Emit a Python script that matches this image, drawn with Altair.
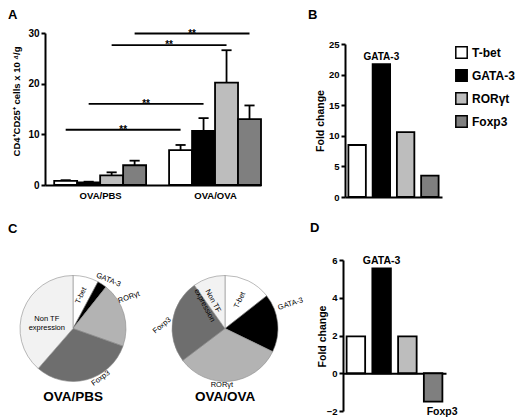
import altair as alt
import pandas as pd

# ---------------- data ----------------
genes = ["T-bet", "GATA-3", "RORγt", "Foxp3"]
groups = ["OVA/PBS", "OVA/OVA"]

# Panel A: CD4+CD25+ cells x 10^4/g (mean and SEM)
a_pbs_mean = [0.8, 0.5, 1.9, 3.9]
a_pbs_sem = [0.15, 0.15, 0.6, 0.9]
a_ova_mean = [6.9, 10.7, 20.2, 13.0]
a_ova_sem = [1.0, 2.5, 6.4, 2.7]
a_ticks = [0, 10, 20, 30]
sig_levels = [10.9, 16.0, 27.6, 29.9]
sig_marks = ["**", "**", "**", "**"]

# Panel B: fold change
b_fold = [8.5, 21.7, 10.6, 3.5]
b_ticks = [0, 5, 10, 15, 20, 25]

# Panel D: fold change
d_fold = [1.95, 5.55, 1.95, -1.5]
d_ticks = [-2, 0, 2, 4, 6]

# Panel C: pie shares (%)
pie_cats = ["T-bet", "GATA-3", "RORγt", "Foxp3", "Non TF expression"]
pie_labels = ["T-bet", "GATA-3", "RORγt", "Foxp3", "Non TF\nexpression"]
pie_pbs = [7.8, 2.9, 19.7, 31.0, 38.6]
pie_ova = [14.4, 17.8, 32.5, 25.5, 9.8]

# ---------------- styles / layout ----------------
FONT = "Liberation Sans"
W, H = 507, 410
bar_colors = ["#ffffff", "#000000", "#bdbdbd", "#7f7f7f"]
pie_colors = ["#ffffff", "#000000", "#b3b3b3", "#6e6e6e", "#f2f2f2"]

lab_radius = [34, 60, 64, 57, 28] + [32, 70, 57, 63, 30]
lab_rot = [294, 22, 340, 325, 0] + [296, 342, 0, 320, 62]
lab_nudge = [0, 0.8, -3.6, -4.0, 0] + [0.5, -4.0, 2.4, -1.7, -1.7]

axis_common = dict(
    domainColor="black", domainWidth=2, tickColor="black", tickWidth=2,
    labelColor="black", labelFont=FONT, labelFontWeight="bold",
    titleFont=FONT, titleFontWeight="bold", titleColor="black",
    grid=False, labelFlush=False, labelOverlap=False,
)

# ---------------- Panel A ----------------
a_df = pd.DataFrame({
    "group": [g for g in groups for _ in genes],
    "gene": genes * 2,
    "mean": a_pbs_mean + a_ova_mean,
    "sem": a_pbs_sem + a_ova_sem,
    "gi": [i for i in range(len(groups)) for _ in genes],
    "ji": list(range(len(genes))) * 2,
})
ax_scale = alt.Scale(domain=[0, 9.4], range=[37, 253], nice=False, zero=False)
ay_scale = alt.Scale(domain=[0, 30], range=[177, 25], nice=False)

a_yaxis = alt.Axis(
    orient="left", offset=-37, values=a_ticks, tickSize=4, labelPadding=2,
    labelFontSize=10, title="CD4⁺CD25⁺ cells x 10 ⁴/g", titleFontSize=9.5,
    titleX=-29, titleY=93, titleAngle=270, titleAlign="center",
    titleBaseline="middle", **axis_common,
)
a_xaxis = alt.Axis(
    orient="bottom", offset=-233, values=[2.4, 7.4], ticks=False, tickSize=0,
    labelPadding=5, labelFontSize=9.5, title=None,
    labelExpr="datum.value < 5 ? 'OVA/PBS' : 'OVA/OVA'", **axis_common,
)

a_base = alt.Chart(a_df).transform_calculate(
    x0="datum.gi * 5 + datum.ji + 0.4",
    x1="datum.gi * 5 + datum.ji + 1.4",
    xc="datum.gi * 5 + datum.ji + 0.9",
    c0="datum.gi * 5 + datum.ji + 0.68",
    c1="datum.gi * 5 + datum.ji + 1.12",
    top="datum.mean + datum.sem",
)
a_err = a_base.mark_rule(color="black", strokeWidth=1.8).encode(
    x=alt.X("xc:Q", scale=ax_scale, axis=None),
    y=alt.Y("mean:Q", scale=ay_scale, axis=None),
    y2="top:Q",
)
a_cap = a_base.mark_rule(color="black", strokeWidth=1.8).encode(
    x=alt.X("c0:Q", scale=ax_scale, axis=None),
    x2="c1:Q",
    y=alt.Y("top:Q", scale=ay_scale, axis=None),
)
a_bars = a_base.mark_bar(stroke="black", strokeWidth=1.8).encode(
    x=alt.X("x0:Q", scale=ax_scale, axis=a_xaxis),
    x2="x1:Q",
    y=alt.Y("mean:Q", scale=ay_scale, axis=a_yaxis, stack=None),
    y2=alt.datum(0),
    color=alt.Color("gene:N", scale=alt.Scale(domain=genes, range=bar_colors), legend=None),
)
sig_df = pd.DataFrame({"ji": list(range(len(genes))), "level": sig_levels, "txt": sig_marks})
sig_base = alt.Chart(sig_df).transform_calculate(
    s="datum.ji + 0.9", e="datum.ji + 5.9", m="datum.ji + 3.4"
)
sig_rule = sig_base.mark_rule(color="black", strokeWidth=1.8).encode(
    x=alt.X("s:Q", scale=ax_scale, axis=None),
    x2="e:Q",
    y=alt.Y("level:Q", scale=ay_scale, axis=None),
)
sig_txt = sig_base.mark_text(font=FONT, fontSize=10, fontWeight="bold", baseline="alphabetic", dy=3, color="black").encode(
    x=alt.X("m:Q", scale=ax_scale, axis=None),
    y=alt.Y("level:Q", scale=ay_scale, axis=None),
    text="txt:N",
)

# ---------------- Panel B ----------------
b_df = pd.DataFrame({"gene": genes, "fold": b_fold})
bx = alt.Scale(domain=genes, range=[337, 434], paddingInner=0.28, paddingOuter=0.14)
by = alt.Scale(domain=[0, 25], range=[189, 36], nice=False)
b_yaxis = alt.Axis(
    orient="left", offset=-337, values=b_ticks, tickSize=4, labelPadding=2,
    labelFontSize=9.5, title="Fold change", titleFontSize=10.5,
    titleX=-25, titleY=112.5, titleAngle=270, titleAlign="center",
    titleBaseline="middle", **axis_common,
)
b_xaxis = alt.Axis(orient="bottom", offset=189 - H, ticks=False, labels=False, title=None, **axis_common)
legend_b = alt.Legend(
    orient="none", legendX=447, legendY=38, title=None, symbolType="square",
    symbolSize=130, symbolStrokeColor="black", symbolStrokeWidth=1.5,
    labelFont=FONT, labelFontSize=12, labelFontWeight="bold", labelColor="black",
    labelOffset=4, rowPadding=4, padding=0,
)
b_bars = alt.Chart(b_df).mark_bar(stroke="black", strokeWidth=1.8).encode(
    x=alt.X("gene:N", scale=bx, axis=b_xaxis, sort=genes),
    y=alt.Y("fold:Q", scale=by, axis=b_yaxis),
    color=alt.Color("gene:N", scale=alt.Scale(domain=genes, range=bar_colors), legend=legend_b, sort=genes),
)
b_note = alt.Chart(b_df).transform_filter(alt.datum.gene == "GATA-3").mark_text(
    font=FONT, fontSize=10, fontWeight="bold", baseline="alphabetic", dy=-4, color="black"
).encode(
    x=alt.X("gene:N", scale=bx, axis=None, sort=genes),
    y=alt.Y("fold:Q", scale=by, axis=None),
    text="gene:N",
)

# ---------------- Panel D ----------------
d_df = pd.DataFrame({"gene": genes, "fold": d_fold})
dx = alt.Scale(domain=genes, range=[335, 438], paddingInner=0.28, paddingOuter=0.14)
dy_ = alt.Scale(domain=[-2, 6], range=[403, 252], nice=False, zero=False)
d_yaxis = alt.Axis(
    orient="left", offset=-335, values=d_ticks, tickSize=4, labelPadding=2,
    labelFontSize=9.5, title="Fold change", titleFontSize=10.5,
    titleX=-20.5, titleY=328, titleAngle=270, titleAlign="center",
    titleBaseline="middle", **axis_common,
)
d_xaxis = alt.Axis(orient="bottom", offset=365.25 - H, ticks=False, labels=False, title=None, **axis_common)
d_bars = alt.Chart(d_df).mark_bar(stroke="black", strokeWidth=1.8).encode(
    x=alt.X("gene:N", scale=dx, axis=d_xaxis, sort=genes),
    y=alt.Y("fold:Q", scale=dy_, axis=d_yaxis, stack=None),
    y2=alt.datum(0),
    color=alt.Color("gene:N", scale=alt.Scale(domain=genes, range=bar_colors), legend=None),
)
d_up = alt.Chart(d_df).transform_filter(alt.datum.fold == max(d_fold)).mark_text(
    font=FONT, fontSize=10.5, fontWeight="bold", baseline="alphabetic", dy=-4, color="black"
).encode(
    x=alt.X("gene:N", scale=dx, axis=None, sort=genes),
    y=alt.Y("fold:Q", scale=dy_, axis=None),
    text="gene:N",
)
d_down = alt.Chart(d_df).transform_filter(alt.datum.fold < 0).mark_text(
    font=FONT, fontSize=10.5, fontWeight="bold", baseline="top", dy=5, dx=9, color="black"
).encode(
    x=alt.X("gene:N", scale=dx, axis=None, sort=genes),
    y=alt.Y("fold:Q", scale=dy_, axis=None),
    text="gene:N",
)

# ---------------- Panel C (pies) ----------------
pie_df = pd.DataFrame({
    "group": [g for g in groups for _ in pie_cats],
    "cat": pie_cats * 2,
    "label": pie_labels * 2,
    "pct": pie_pbs + pie_ova,
    "order": list(range(len(pie_cats))) * 2,
    "lr": lab_radius,
    "rot": lab_rot,
    "nudge": lab_nudge,
})
pie_base = alt.Chart(pie_df).transform_joinaggregate(
    total="sum(pct)", groupby=["group"]
).transform_calculate(
    share="100 * datum.pct / datum.total"
).transform_window(
    cum="sum(share)", groupby=["group"], sort=[alt.SortField("order")], frame=[None, 0]
).transform_calculate(
    start="datum.cum - datum.share",
    mid="datum.cum - datum.share / 2 + datum.nudge",
)
px = alt.Scale(type="point", domain=groups, range=[65, 217], padding=0)
th = alt.Scale(domain=[0, 100], range=[0, 6.283185307])
arcs = pie_base.mark_arc(outerRadius=53, stroke="#8c8c8c", strokeWidth=0.6).encode(
    x=alt.X("group:N", scale=px, axis=None),
    y=alt.value(320.5),
    theta=alt.Theta("start:Q", scale=th, stack=None),
    theta2="cum:Q",
    color=alt.Color("cat:N", scale=alt.Scale(domain=pie_cats, range=pie_colors), legend=None),
)
pie_text = pie_base.mark_text(
    font=FONT, fontSize=7.5, lineBreak="\n", align="center", baseline="middle", color="black"
).encode(
    x=alt.X("group:N", scale=px, axis=None),
    y=alt.value(320.5),
    theta=alt.Theta("mid:Q", scale=th, stack=None),
    radius=alt.Radius("lr:Q", scale=None),
    angle=alt.Angle("rot:Q", scale=None),
    text="label:N",
)
pie_titles = alt.Chart(pd.DataFrame({"group": groups})).mark_text(
    font=FONT, fontSize=13.5, fontWeight="bold", baseline="middle", color="black"
).encode(
    x=alt.X("group:N", scale=px, axis=None),
    y=alt.value(389),
    text="group:N",
)


# ---------------- panel letters ----------------
def letter(ch, x, y):
    return alt.Chart(pd.DataFrame({"t": [ch]})).mark_text(
        font=FONT, fontSize=13, fontWeight="bold", align="left", baseline="alphabetic", color="black"
    ).encode(x=alt.value(x), y=alt.value(y), text="t:N")


letters = [letter("A", 0, 10.5), letter("B", 300, 10.5), letter("C", 0, 225), letter("D", 302, 224)]

layers = [
    a_err, a_cap, a_bars, sig_rule, sig_txt,
    b_bars, b_note,
    d_bars, d_up, d_down,
    arcs, pie_text, pie_titles,
] + letters

chart = alt.layer(*layers).resolve_scale(
    x="independent", y="independent", color="independent", theta="independent"
).resolve_axis(
    x="independent", y="independent"
).resolve_legend(
    color="independent"
).properties(
    width=W, height=H, padding=0, autosize=alt.AutoSizeParams(type="none")
).configure(font=FONT).configure_view(stroke=None)

chart.save("out.html", embed_options={"renderer": "svg", "actions": False})
